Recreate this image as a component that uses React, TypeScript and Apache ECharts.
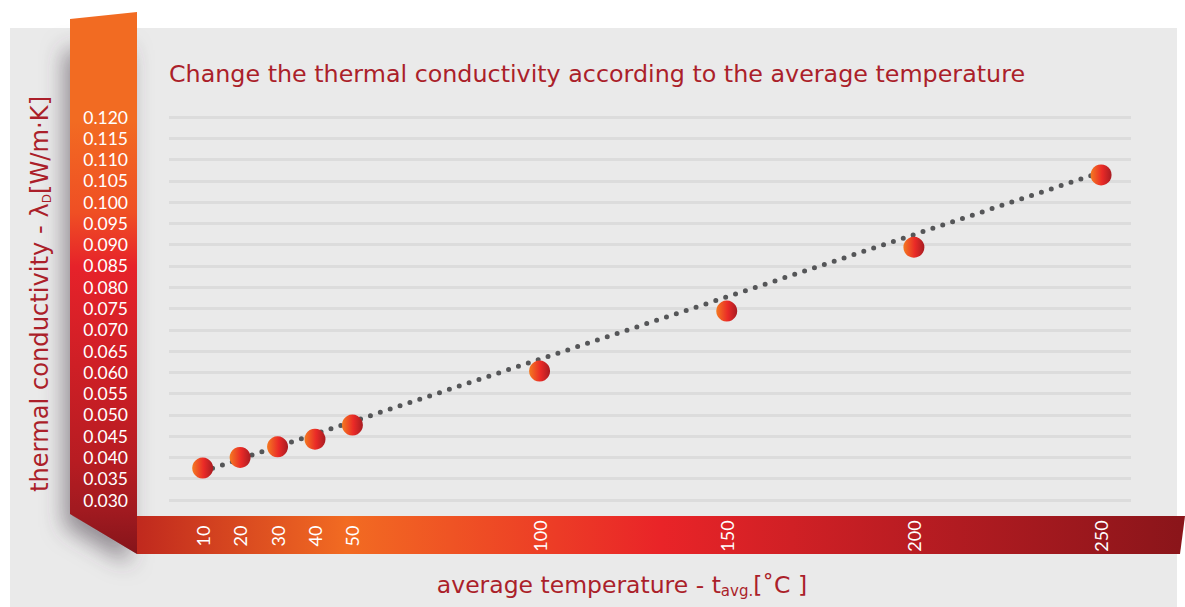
import React, { useEffect, useRef } from "react";
import * as echarts from "echarts";

const temps = [10, 20, 30, 40, 50, 100, 150, 200, 250];
const conductivity = [0.0375, 0.04, 0.0425, 0.0443, 0.0476, 0.0603, 0.0744, 0.0894, 0.1064];
const trendTemps = [10, 250];
const trendValues = [0.0367, 0.107];
const xLabelValues = [10, 20, 30, 40, 50, 100, 150, 200, 250];
const yMin = 0.03;
const yMax = 0.12;
const yStep = 0.005;

const titleText = "Change the thermal conductivity according to the average temperature";
const FONT = "Lato";
const TFONT = "DejaVu Sans";
const DARK_RED = "#ab1f2a";

export default function App() {
  const ref = useRef<HTMLDivElement>(null);
  useEffect(() => {
    if (!ref.current) return;
    const chart = echarts.init(ref.current, null, { renderer: "svg" });
    const markerFill = new echarts.graphic.LinearGradient(0, 0, 1, 0, [
      { offset: 0, color: "#f47a21" },
      { offset: 0.55, color: "#ea2a27" },
      { offset: 1, color: "#a81c22" },
    ]);
    const option: any = {
      animation: false,
      backgroundColor: "#ffffff",
      textStyle: { fontFamily: FONT },
      title: {
        text: titleText,
        left: 169,
        top: 62,
        padding: 0,
        textStyle: { fontFamily: TFONT, fontSize: 23.8, fontWeight: "normal", color: DARK_RED },
      },
      graphic: [
        {
          type: "rect",
          z: -10,
          silent: true,
          shape: { x: 10, y: 28, width: 1167, height: 579 },
          style: { fill: "#eaeaea" },
        },
        {
          type: "polygon",
          z: -9,
          silent: true,
          shape: { points: [[72, 40], [137, 40], [137, 554], [72, 516]] },
          style: {
            fill: "rgba(150,145,150,0.9)",
            shadowBlur: 22,
            shadowOffsetX: -8,
            shadowOffsetY: 10,
            shadowColor: "rgba(70,60,70,0.6)",
          },
        },
        {
          type: "polygon",
          z: -8,
          silent: true,
          shape: { points: [[70, 19], [137, 12], [137, 554], [70, 514]] },
          style: {
            fill: new echarts.graphic.LinearGradient(0, 0, 0, 1, [
              { offset: 0, color: "#f26b22" },
              { offset: 0.2, color: "#f26b22" },
              { offset: 0.37, color: "#ef4f24" },
              { offset: 0.47, color: "#e6222a" },
              { offset: 0.83, color: "#b71c22" },
              { offset: 0.92, color: "#a11a20" },
              { offset: 1, color: "#85141a" },
            ]),
          },
        },
        {
          type: "polygon",
          z: -8,
          silent: true,
          shape: { points: [[137, 516], [1185, 516], [1180, 554], [137, 554]] },
          style: {
            fill: new echarts.graphic.LinearGradient(0, 0, 1, 0, [
              { offset: 0, color: "#c0291e" },
              { offset: 0.2, color: "#f26b22" },
              { offset: 0.5, color: "#e92428" },
              { offset: 0.75, color: "#b71c22" },
              { offset: 1, color: "#8a151a" },
            ]),
          },
        },
        {
          type: "text",
          silent: true,
          x: 40,
          y: 294,
          rotation: Math.PI / 2,
          style: {
            text: "{a|thermal conductivity - λ}{s|D}{a|[W/m·K]}",
            align: "center",
            verticalAlign: "middle",
            rich: {
              a: { fontFamily: TFONT, fontSize: 24.2, fill: DARK_RED },
              s: { fontFamily: TFONT, fontSize: 12, fill: DARK_RED, padding: [14, 0, 0, 0] },
            },
          },
        },
        {
          type: "text",
          silent: true,
          x: 622,
          y: 585,
          style: {
            text: "{a|average temperature - t}{s|avg.}{a|[˚C ]}",
            align: "center",
            verticalAlign: "middle",
            rich: {
              a: { fontFamily: TFONT, fontSize: 23.5, fill: DARK_RED },
              s: { fontFamily: TFONT, fontSize: 15, fill: DARK_RED, padding: [12, 0, 0, 0] },
            },
          },
        },
      ],
      grid: { left: 169, right: 54, top: 117, bottom: 107, containLabel: false },
      xAxis: {
        type: "value",
        min: 1,
        max: 258,
        axisLine: { show: false },
        axisTick: { show: false },
        splitLine: { show: false },
        axisLabel: {
          customValues: xLabelValues,
          rotate: 90,
          color: "#ffffff",
          fontFamily: FONT,
          fontSize: 18,
          margin: 36,
          align: "center",
          verticalAlign: "middle",
        },
      },
      yAxis: {
        type: "value",
        min: yMin,
        max: yMax,
        interval: yStep,
        axisLine: { show: false },
        axisTick: { show: false },
        axisLabel: {
          color: "#ffffff",
          fontFamily: FONT,
          fontSize: 17.5,
          lineHeight: 19,
          margin: 41,
          formatter: (v: number) => v.toFixed(3),
        },
        splitLine: { lineStyle: { color: "#dcdcdc", width: 3 } },
      },
      series: [
        {
          type: "line",
          data: trendTemps.map((t, i) => [t, trendValues[i]]),
          symbol: "none",
          silent: true,
          z: 1,
          lineStyle: { color: "#555658", width: 5, type: [0, 10.4], cap: "round" },
        },
        {
          type: "scatter",
          data: temps.map((t, i) => [t, conductivity[i]]),
          symbol: "circle",
          symbolSize: 21,
          z: 5,
          itemStyle: { color: markerFill, opacity: 1 },
        },
      ],
    };
    chart.setOption(option);
    return () => chart.dispose();
  }, []);
  return (
    <div
      ref={ref}
      style={{ position: "absolute", left: 0, top: 0, width: 1185, height: 607 }}
    />
  );
}
